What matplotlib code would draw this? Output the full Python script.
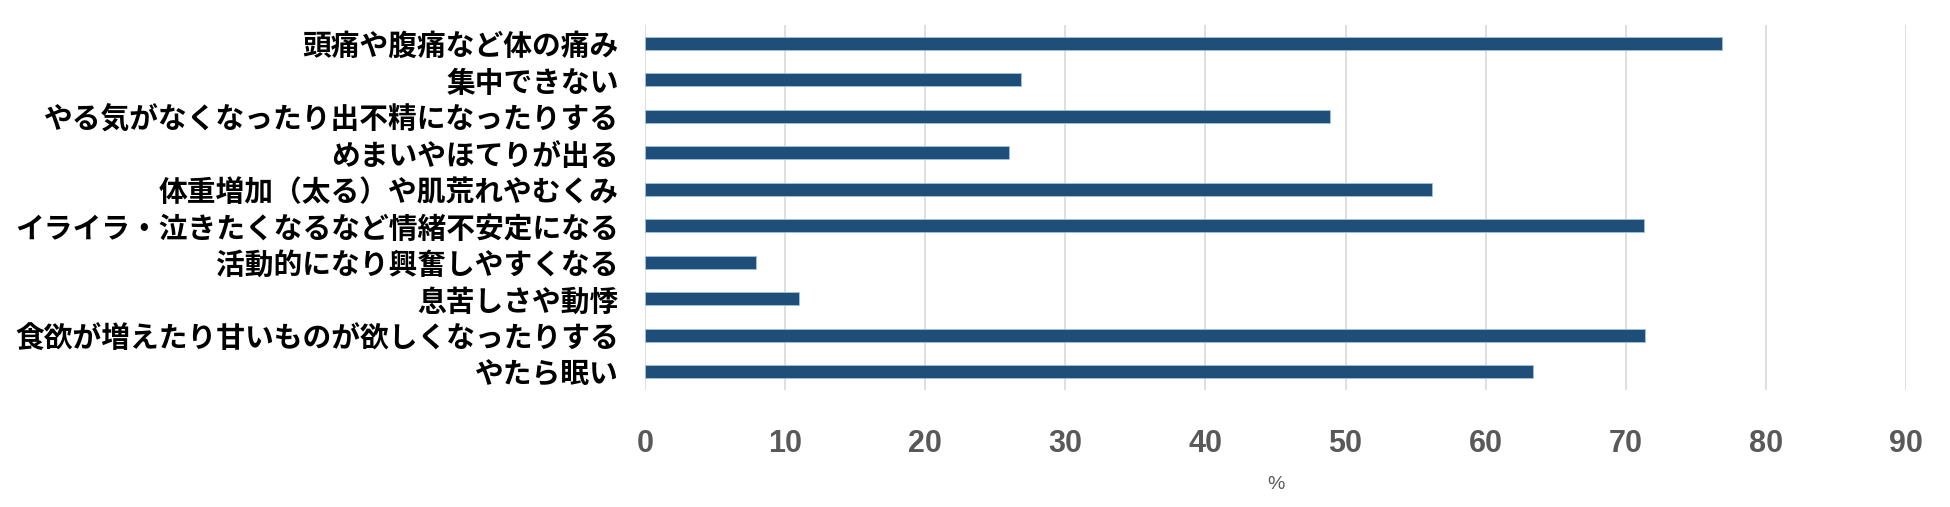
import matplotlib
matplotlib.use("Agg")
import matplotlib.pyplot as plt

plt.rcParams['font.family'] = ['Noto Sans CJK JP', 'DejaVu Sans']

# Data (top to bottom)
labels = [
    "頭痛や腹痛など体の痛み",
    "集中できない",
    "やる気がなくなったり出不精になったりする",
    "めまいやほてりが出る",
    "体重増加（太る）や肌荒れやむくみ",
    "イライラ・泣きたくなるなど情緒不安定になる",
    "活動的になり興奮しやすくなる",
    "息苦しさや動悸",
    "食欲が増えたり甘いものが欲しくなったりする",
    "やたら眠い",
]
values = [76.9, 26.8, 48.9, 26.0, 56.2, 71.3, 7.9, 11.0, 71.4, 63.4]
xticks = [0, 10, 20, 30, 40, 50, 60, 70, 80, 90]

fig = plt.figure(figsize=(19.5, 5.07), dpi=100)
ax = fig.add_axes([0.3308, 0.2308, 0.6466, 0.7199])

pos = list(range(len(labels)))
ax.barh(pos, values, height=0.35, color="#1f4e79", edgecolor="#9dc3e6", linewidth=0.6, zorder=3)

ax.set_ylim(len(labels) - 0.5, -0.5)
ax.set_xlim(0, 90)
ax.set_xticks(xticks)
ax.set_yticks(pos)
ax.set_yticklabels(labels, fontsize=20.7, fontweight="bold", color="black")
ax.tick_params(axis="y", length=0, pad=19)
ax.tick_params(axis="x", length=0, pad=28)
for t in ax.get_xticklabels():
    t.set_family(["Liberation Sans Narrow", "Liberation Sans", "DejaVu Sans"])
    t.set_fontsize(22)
    t.set_fontweight("bold")
    t.set_color("#595959")

ax.grid(axis="x", color="#d9d9d9", linewidth=1.2, zorder=0)
for s in ax.spines.values():
    s.set_visible(False)

ax.set_xlabel("%", fontsize=14, color="#595959", labelpad=12,
              family=["Liberation Sans Narrow", "Liberation Sans", "DejaVu Sans"])

fig.savefig("out.png", dpi=100)
